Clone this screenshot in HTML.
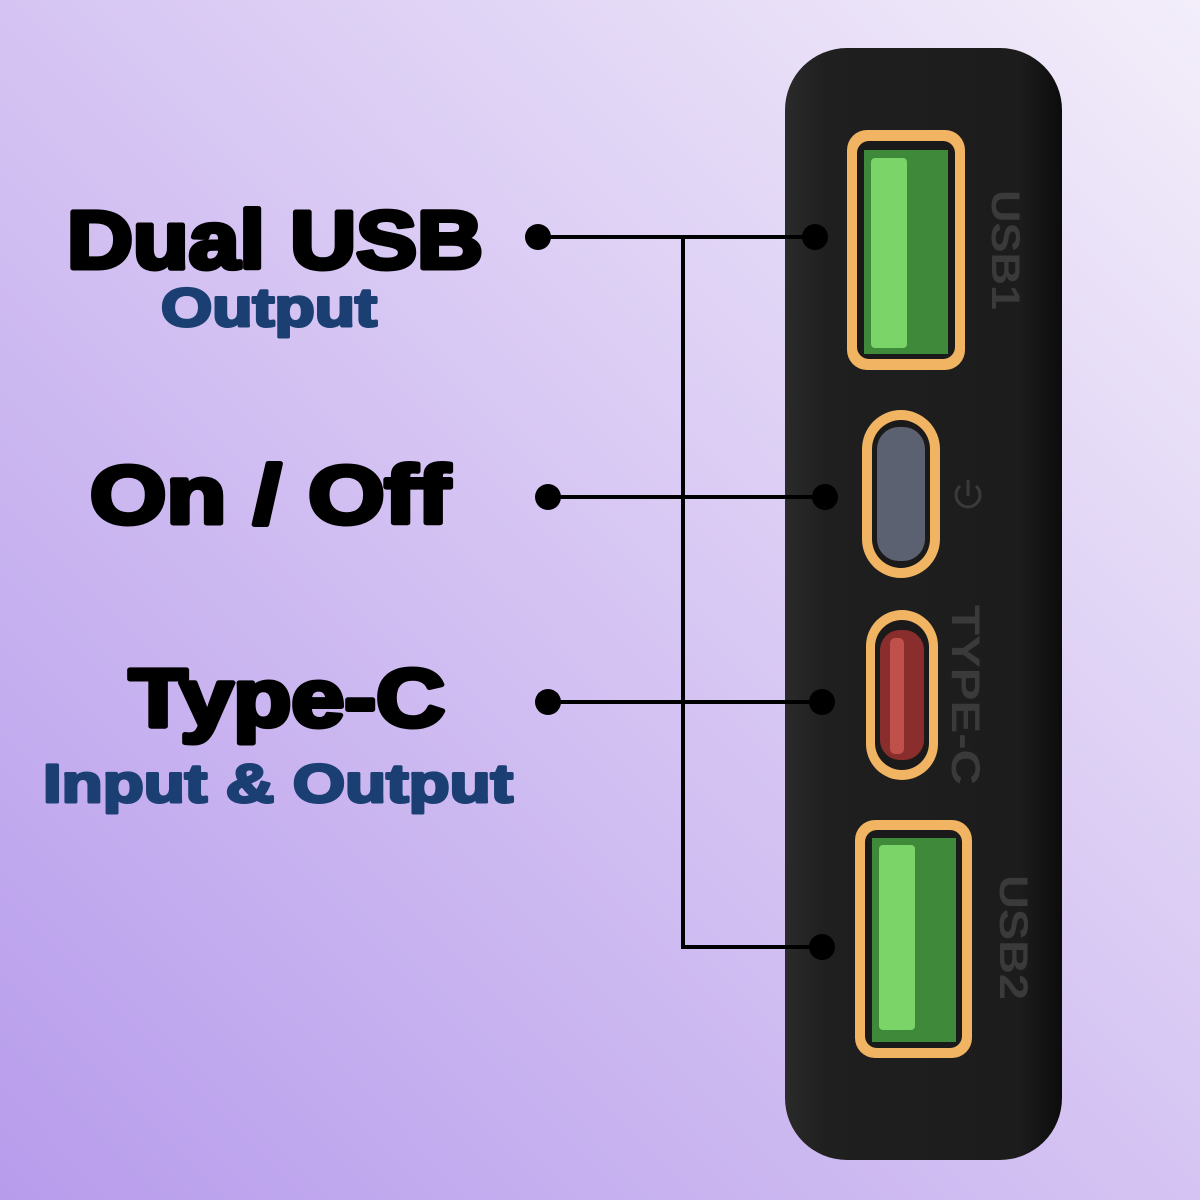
<!DOCTYPE html>
<html><head><meta charset="utf-8"><style>
html,body{margin:0;padding:0;width:1200px;height:1200px;overflow:hidden}
</style></head><body>
<svg width="1200" height="1200" viewBox="0 0 1200 1200" xmlns="http://www.w3.org/2000/svg">
<defs>
<linearGradient id="bg" x1="0" y1="1" x2="1" y2="0">
<stop offset="0" stop-color="#b79cec"/>
<stop offset="0.45" stop-color="#d2c0f2"/>
<stop offset="1" stop-color="#f3eefa"/>
</linearGradient>
<linearGradient id="dev" x1="0" y1="0" x2="1" y2="0">
<stop offset="0" stop-color="#2a2a2a"/>
<stop offset="0.15" stop-color="#1f1f1f"/>
<stop offset="0.85" stop-color="#1c1c1c"/>
<stop offset="1" stop-color="#0c0c0c"/>
</linearGradient>
</defs>
<rect width="1200" height="1200" fill="url(#bg)"/>
<rect x="785" y="48" width="277" height="1112" rx="62" fill="url(#dev)"/>
<rect x="847" y="130" width="118" height="240" rx="20" fill="#f0b462"/>
<rect x="857" y="141" width="98" height="218" rx="12" fill="#1a1a1a"/>
<rect x="864" y="150" width="84" height="204" fill="#3f8a3a"/>
<rect x="871" y="158" width="36" height="190" rx="4" fill="#7ad468"/>
<rect x="862" y="410" width="78" height="168" rx="39" fill="#f0b462"/>
<rect x="872" y="420" width="58" height="148" rx="29" fill="#1a1a1a"/>
<rect x="877" y="427" width="48" height="134" rx="22" fill="#5b6170"/>
<rect x="866" y="610" width="72" height="170" rx="36" fill="#f0b462"/>
<rect x="875" y="620" width="54" height="150" rx="27" fill="#1a1a1a"/>
<rect x="880" y="630" width="44" height="130" rx="20" fill="#8a2d2d"/>
<rect x="890" y="638" width="14" height="116" rx="5" fill="#c0504a"/>
<rect x="855" y="820" width="117" height="238" rx="20" fill="#f0b462"/>
<rect x="865" y="830" width="97" height="218" rx="12" fill="#1a1a1a"/>
<rect x="872" y="838" width="84" height="204" fill="#3f8a3a"/>
<rect x="879" y="845" width="36" height="185" rx="4" fill="#7ad468"/>
<g fill="#3a3a3a" font-family="Liberation Sans, sans-serif" font-weight="bold">
<text transform="translate(992,190) rotate(90)" font-size="40" textLength="120" lengthAdjust="spacingAndGlyphs">USB1</text>
<text transform="translate(952,605) rotate(90)" font-size="40" textLength="180" lengthAdjust="spacingAndGlyphs">TYPE-C</text>
<text transform="translate(1000,875) rotate(90)" font-size="40" textLength="125" lengthAdjust="spacingAndGlyphs">USB2</text>
</g>
<g stroke="#3a3a3a" stroke-width="3" fill="none">
<path d="M960 486 A12 12 0 1 0 976 486"/>
<line x1="968" y1="480" x2="968" y2="496"/>
</g>
<g stroke="#000" stroke-width="4" fill="none">
<line x1="538" y1="237" x2="815" y2="237"/>
<polyline points="683,237 683,947 822,947"/>
<line x1="548" y1="497" x2="825" y2="497"/>
<line x1="548" y1="702" x2="822" y2="702"/>
</g>
<g fill="#000">
<circle cx="538" cy="237" r="13"/><circle cx="815" cy="237" r="13"/>
<circle cx="548" cy="497" r="13"/><circle cx="825" cy="497" r="13"/>
<circle cx="548" cy="702" r="13"/><circle cx="822" cy="702" r="13"/>
<circle cx="822" cy="947" r="13"/>
</g>
<g font-family="Liberation Sans, sans-serif" font-weight="bold" stroke-linejoin="round">
<text x="67" y="268" font-size="82" fill="#000" stroke="#000" stroke-width="5" textLength="416" lengthAdjust="spacingAndGlyphs">Dual USB</text>
<text x="161" y="326" font-size="54" fill="#1b3f72" stroke="#1b3f72" stroke-width="3" textLength="216" lengthAdjust="spacingAndGlyphs">Output</text>
<text x="90" y="523" font-size="82" fill="#000" stroke="#000" stroke-width="5" textLength="360" lengthAdjust="spacingAndGlyphs">On / Off</text>
<text x="129" y="726" font-size="82" fill="#000" stroke="#000" stroke-width="5" textLength="316" lengthAdjust="spacingAndGlyphs">Type-C</text>
<text x="43" y="802" font-size="54" fill="#1b3f72" stroke="#1b3f72" stroke-width="3" textLength="470" lengthAdjust="spacingAndGlyphs">Input &amp; Output</text>
</g>
</svg>
</body></html>
